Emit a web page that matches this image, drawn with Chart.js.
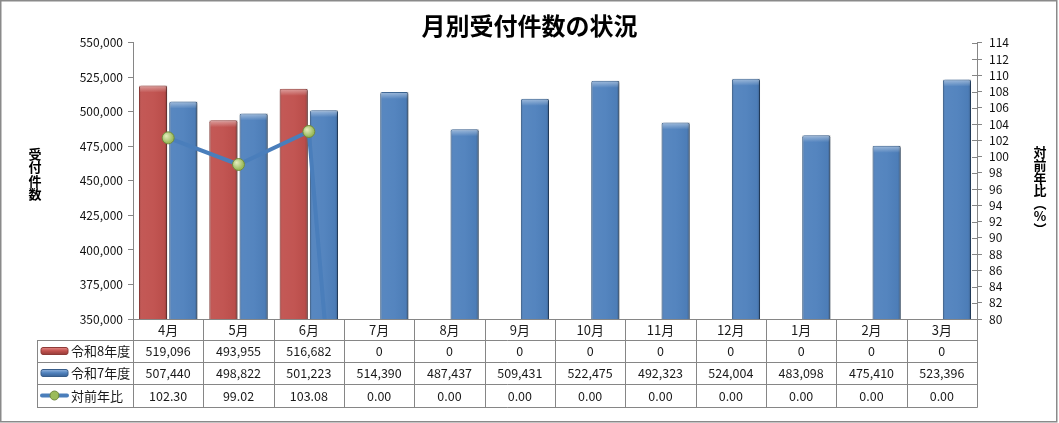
<!DOCTYPE html>
<html><head><meta charset="utf-8">
<script src="https://cdn.jsdelivr.net/npm/chart.js@4.4.1/dist/chart.umd.min.js"></script>
<style>html,body{margin:0;padding:0;background:#fff;overflow:hidden}#wrap{width:1059px;height:423px;position:relative}</style>
</head><body><div id="wrap"><canvas id="c" width="1059" height="423" style="width:1059px;height:423px"></canvas></div>
<script>
const chartTitle = '月別受付件数の状況';
const leftAxisTitle = '受付件数';
const rightAxisTitle = '対前年比（%）';
const categories = ['4月','5月','6月','7月','8月','9月','10月','11月','12月','1月','2月','3月'];
const seriesNames = ['令和8年度','令和7年度','対前年比'];
const r8Values = [519096,493955,516682,0,0,0,0,0,0,0,0,0];
const r7Values = [507440,498822,501223,514390,487437,509431,522475,492323,524004,483098,475410,523396];
const ratioValues = [102.30,99.02,103.08,0,0,0,0,0,0,0,0,0];
const leftAxisRange = [350000,550000,25000];
const rightAxisRange = [80,114,2];

const FONT = '"Noto Sans CJK JP","Noto Sans",sans-serif';
const GRID = '#868686';
const RED = '#C0504D', BLUE = '#4F81BD', LINE = '#4A7EBB', GREEN = '#9BBB59';

const fmt = v => v.toLocaleString('en-US');

const decor = {
  id: 'decor',
  beforeDatasetDraw(chart, args) {
    if (args.meta.type === 'bar') {
      const ctx = chart.ctx; ctx.save();
      ctx.shadowColor = 'rgba(0,0,0,0.3)'; ctx.shadowOffsetX = 2; ctx.shadowOffsetY = 1; ctx.shadowBlur = 3;
    }
  },
  afterDatasetDraw(chart, args) {
    const ctx = chart.ctx, a = chart.chartArea, meta = args.meta;
    if (meta.type === 'bar') {
      ctx.restore();
      ctx.save();
      ctx.beginPath(); ctx.rect(a.left, a.top, a.right - a.left, a.bottom - a.top); ctx.clip();
      meta.data.forEach(el => {
        const p = el.getProps(['x','y','base','width'], true);
        if (!(p.y < p.base)) return;
        const l = p.x - p.width / 2, h = p.base - p.y;
        const g = ctx.createLinearGradient(l, 0, l + p.width, 0);
        g.addColorStop(0, 'rgba(0,0,0,0.15)');
        g.addColorStop(0.1, 'rgba(255,255,255,0.05)');
        g.addColorStop(0.5, 'rgba(255,255,255,0.03)');
        g.addColorStop(0.9, 'rgba(0,0,0,0.03)');
        g.addColorStop(1, 'rgba(0,0,0,0.25)');
        ctx.fillStyle = g; ctx.fillRect(l, p.y, p.width, h);
        const gt = ctx.createLinearGradient(0, p.y, 0, p.y + 7);
        gt.addColorStop(0, 'rgba(255,255,255,0.45)');
        gt.addColorStop(1, 'rgba(255,255,255,0)');
        ctx.fillStyle = gt; ctx.fillRect(l + 1, p.y + 1, p.width - 2, 6);
      });
      ctx.restore();
    } else if (meta.type === 'line') {
      ctx.save();
      ctx.beginPath(); ctx.rect(a.left, a.top, a.right - a.left, a.bottom - a.top); ctx.clip();
      meta.data.forEach(el => {
        const p = el.getProps(['x','y'], true);
        if (p.y > a.bottom || p.y < a.top) return;
        const g = ctx.createRadialGradient(p.x - 2, p.y - 2, 0, p.x - 1, p.y - 1, 6);
        g.addColorStop(0, 'rgba(255,255,220,0.75)');
        g.addColorStop(1, 'rgba(255,255,255,0)');
        ctx.fillStyle = g; ctx.beginPath(); ctx.arc(p.x, p.y, 5.5, 0, Math.PI * 2); ctx.fill();
      });
      ctx.restore();
    }
  },
  afterDraw(chart) {
    const ctx = chart.ctx, a = chart.chartArea, xs = chart.scales.x, y1 = chart.scales.y1;
    const n = categories.length, w = (a.right - a.left) / n;
    const rowH = [21, 22, 22, 23];
    const ys = [a.bottom]; rowH.forEach(h => ys.push(ys[ys.length - 1] + h));
    const legL = 37;
    ctx.save();
    // right axis inner tick halves
    ctx.strokeStyle = GRID; ctx.lineWidth = 1; ctx.beginPath();
    y1.ticks.forEach(t => { const yy = Math.round(y1.getPixelForValue(t.value)) + 0.5; ctx.moveTo(a.right - 5, yy); ctx.lineTo(a.right, yy); });
    ctx.stroke();
    // table grid
    ctx.beginPath();
    ys.forEach((y, i) => { const yy = Math.round(y) + 0.5; ctx.moveTo(i === 0 ? a.left : legL, yy); ctx.lineTo(a.right + 0.5, yy); });
    for (let i = 0; i <= n; i++) {
      const x = Math.round(i < n ? xs.getPixelForValue(i) - w / 2 : xs.getPixelForValue(n - 1) + w / 2) + 0.5;
      ctx.moveTo(x, ys[0]); ctx.lineTo(x, ys[4] + 0.5);
    }
    ctx.moveTo(legL + 0.5, ys[1]); ctx.lineTo(legL + 0.5, ys[4] + 0.5);
    ctx.stroke();
    // table text
    ctx.fillStyle = '#1a1a1a'; ctx.textAlign = 'center'; ctx.textBaseline = 'middle';
    const rows = [categories, r8Values.map(fmt), r7Values.map(fmt), ratioValues.map(v => v.toFixed(2))];
    rows.forEach((r, ri) => {
      ctx.font = (ri === 0 ? '13px ' : '12.5px ') + FONT;
      const cy = (ys[ri] + ys[ri + 1]) / 2 + 0.5;
      r.forEach((s, i) => ctx.fillText(s, xs.getPixelForValue(i), cy));
    });
    // legend keys
    const sw = [RED, BLUE];
    for (let k = 0; k < 3; k++) {
      const cy = (ys[k + 1] + ys[k + 2]) / 2;
      if (k < 2) {
        const g = ctx.createLinearGradient(0, cy - 4, 0, cy + 4);
        g.addColorStop(0, k === 0 ? '#E8908D' : '#9DBBE3');
        g.addColorStop(0.5, sw[k]);
        g.addColorStop(1, k === 0 ? '#8E3A37' : '#375E8F');
        ctx.fillStyle = g; ctx.strokeStyle = k === 0 ? '#8E3A37' : '#385D8A'; ctx.lineWidth = 1;
        ctx.beginPath(); ctx.roundRect(41, cy - 3.5, 27, 7, 2); ctx.fill(); ctx.stroke();
      } else {
        ctx.strokeStyle = LINE; ctx.lineWidth = 4; ctx.lineCap = 'round';
        ctx.beginPath(); ctx.moveTo(42, cy); ctx.lineTo(67, cy); ctx.stroke();
        ctx.fillStyle = GREEN; ctx.strokeStyle = '#71893F'; ctx.lineWidth = 1;
        ctx.beginPath(); ctx.arc(54.5, cy, 4.5, 0, Math.PI * 2); ctx.fill(); ctx.stroke();
      }
      ctx.fillStyle = '#1a1a1a'; ctx.textAlign = 'left'; ctx.font = '13px ' + FONT;
      ctx.fillText(seriesNames[k], 71, cy + 0.5);
    }
    // axis titles (vertical, upright characters)
    ctx.font = 'bold 13px ' + FONT; ctx.textAlign = 'center'; ctx.fillStyle = '#000';
    [...leftAxisTitle].forEach((ch, i) => ctx.fillText(ch, 35, 154 + i * 13.5));
    const vmap = { '（': '︵', '）': '︶', '(': '︵', ')': '︶' };
    [...rightAxisTitle].forEach((ch, i) => ctx.fillText(vmap[ch] || ch, 1040, 152 + i * 12.8));
    // outer frame
    ctx.strokeStyle = '#8A8A8A'; ctx.lineWidth = 1.5;
    ctx.strokeRect(0.75, 0.75, 1056, 421);
    ctx.restore();
  }
};

new Chart(document.getElementById('c'), {
  data: {
    labels: categories,
    datasets: [
      { type: 'line', label: seriesNames[2], data: ratioValues, yAxisID: 'y1', order: 0,
        borderColor: LINE, borderWidth: 4, tension: 0, clip: 0,
        pointRadius: 6, pointHoverRadius: 6, pointBackgroundColor: GREEN, pointBorderColor: '#71893F', pointBorderWidth: 1 },
      { type: 'bar', label: seriesNames[0], data: r8Values, yAxisID: 'y', order: 1,
        backgroundColor: RED, borderColor: '#9A3E3B', borderWidth: 1, borderRadius: { topLeft: 2, topRight: 2 },
        categoryPercentage: 0.86, barPercentage: 0.93 },
      { type: 'bar', label: seriesNames[1], data: r7Values, yAxisID: 'y', order: 1,
        backgroundColor: BLUE, borderColor: '#3A6596', borderWidth: 1, borderRadius: { topLeft: 2, topRight: 2 },
        categoryPercentage: 0.86, barPercentage: 0.93 }
    ]
  },
  options: {
    responsive: false, animation: false, devicePixelRatio: 1,
    layout: { padding: { left: 0, right: 0, top: 0, bottom: 104 } },
    plugins: {
      legend: { display: false }, tooltip: { enabled: false },
      title: { display: true, text: chartTitle, color: '#000', font: { family: FONT, size: 24, weight: 'bold' }, padding: { top: 11, bottom: 3 } }
    },
    scales: {
      x: { type: 'category', display: false, offset: true },
      y: { position: 'left', min: leftAxisRange[0], max: leftAxisRange[1],
        afterFit: s => { s.width = 133; },
        ticks: { stepSize: leftAxisRange[2], autoSkip: false, padding: 5, color: '#111', font: { family: FONT, size: 12 }, callback: v => fmt(v) },
        grid: { drawOnChartArea: false, color: GRID, tickLength: 5 },
        border: { color: GRID } },
      y1: { position: 'right', min: rightAxisRange[0], max: rightAxisRange[1],
        afterFit: s => { s.width = 82; },
        ticks: { stepSize: rightAxisRange[2], autoSkip: false, padding: 7, color: '#111', font: { family: FONT, size: 12 } },
        grid: { drawOnChartArea: false, color: GRID, tickLength: 5 },
        border: { color: GRID } }
    }
  },
  plugins: [decor]
});
</script></body></html>
